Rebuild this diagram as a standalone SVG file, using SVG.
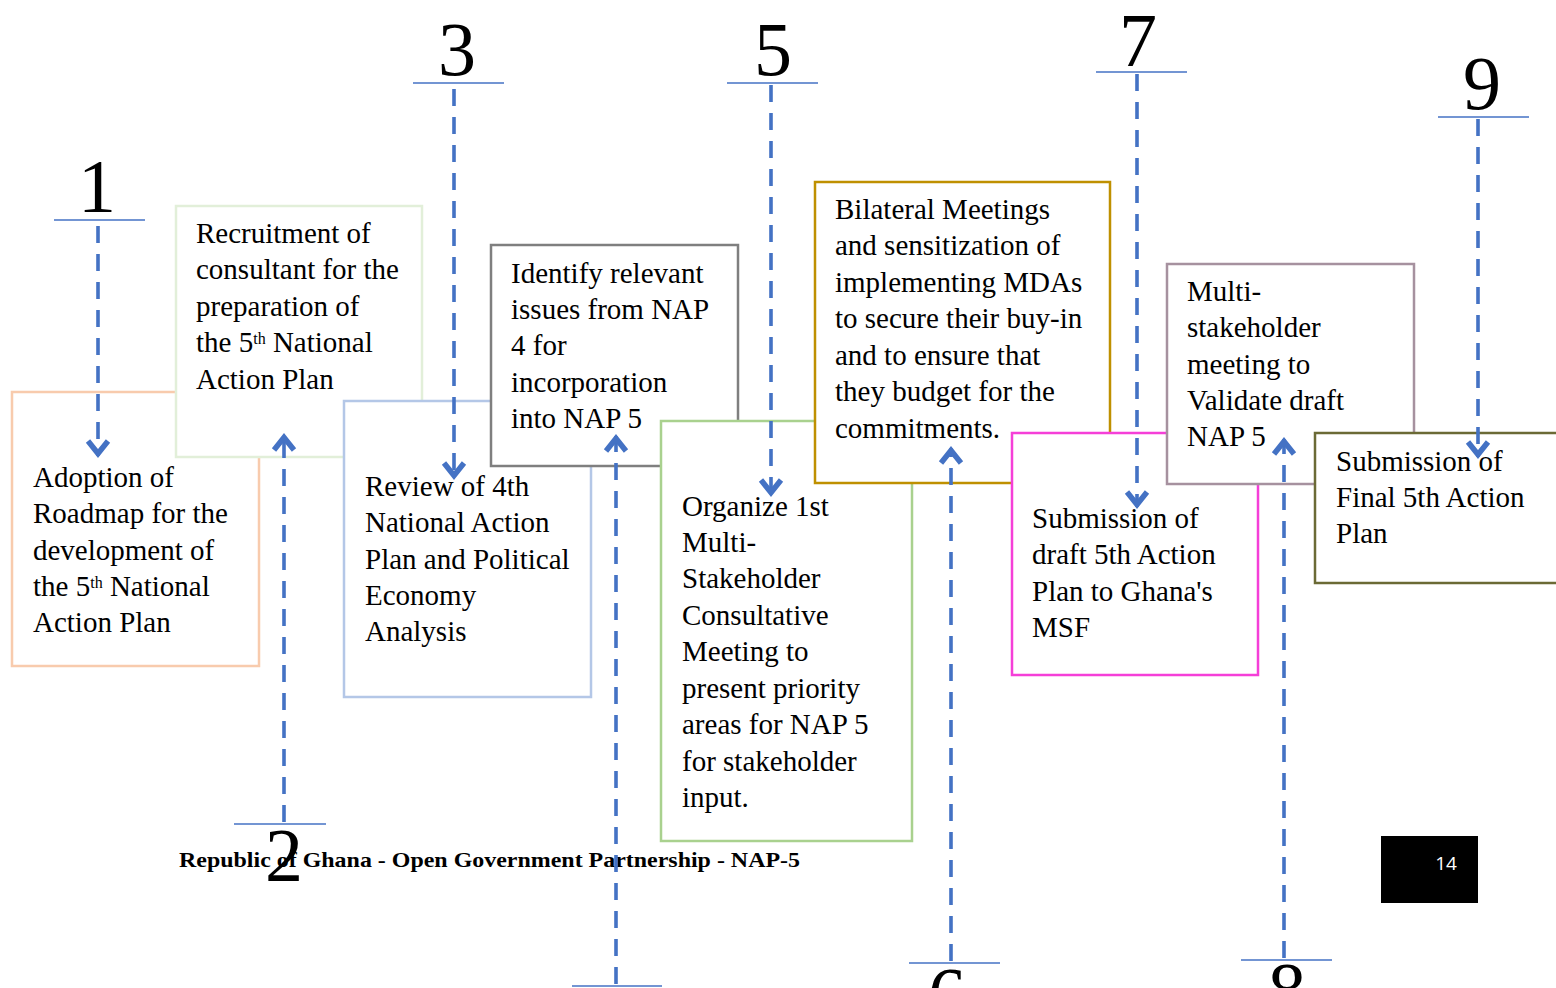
<svg xmlns="http://www.w3.org/2000/svg" width="1556" height="988" viewBox="0 0 1556 988">
<style>
.box{fill:#fff;stroke-width:2.5}
.t{font-family:"Liberation Serif","Times New Roman",serif;font-size:29px;fill:#000}
.sup{font-size:16px}
.num{font-family:"Liberation Serif","Times New Roman",serif;font-size:76px;fill:#000;text-anchor:middle}
.ul{stroke:#4472C4;stroke-width:1.6;fill:none}
.dl{stroke:#4472C4;stroke-width:3.6;stroke-dasharray:17 11;fill:none}
.foot{font-family:"Liberation Serif","Times New Roman",serif;font-size:22px;font-weight:bold;fill:#000}
</style>
<defs>
<marker id="ah" markerUnits="userSpaceOnUse" markerWidth="34" markerHeight="34" viewBox="-22 -17 34 34" refX="0" refY="0" orient="auto">
<path d="M-15,-10 L-2.5,0 L-15,10" fill="none" stroke="#4472C4" stroke-width="5.5" stroke-dasharray="none" stroke-linejoin="miter"/>
</marker>
</defs>
<rect width="1556" height="988" fill="#fff"/>

<g id="node1">
<rect class="box" x="12" y="392" width="247" height="274" stroke="#F8CBAD"/>
<text class="t" x="33" y="487">Adoption of</text>
<text class="t" x="33" y="523">Roadmap for the</text>
<text class="t" x="33" y="560">development of</text>
<text class="t" x="33" y="596">the 5<tspan class="sup" baseline-shift="super">th</tspan> National</text>
<text class="t" x="33" y="632">Action Plan</text>
</g>
<g id="node2">
<rect class="box" x="176" y="206" width="246" height="251" stroke="#E2EFD9"/>
<text class="t" x="196" y="243">Recruitment of</text>
<text class="t" x="196" y="279">consultant for the</text>
<text class="t" x="196" y="316">preparation of</text>
<text class="t" x="196" y="352">the 5<tspan class="sup" baseline-shift="super">th</tspan><tspan baseline-shift="0"> National</tspan></text>
<text class="t" x="196" y="389">Action Plan</text>
</g>
<g id="node3">
<rect class="box" x="344" y="401" width="247" height="296" stroke="#B4C7E7"/>
<text class="t" x="365" y="496">Review of 4th</text>
<text class="t" x="365" y="532">National Action</text>
<text class="t" x="365" y="569">Plan and Political</text>
<text class="t" x="365" y="605">Economy</text>
<text class="t" x="365" y="641">Analysis</text>
</g>
<g id="node4">
<rect class="box" x="491" y="245" width="247" height="221" stroke="#7F7F7F"/>
<text class="t" x="511" y="283">Identify relevant</text>
<text class="t" x="511" y="319">issues from NAP</text>
<text class="t" x="511" y="355">4 for</text>
<text class="t" x="511" y="392">incorporation</text>
<text class="t" x="511" y="428">into NAP 5</text>
</g>
<g id="node5">
<rect class="box" x="661" y="421" width="251" height="420" stroke="#A9D18E"/>
<text class="t" x="682" y="516">Organize 1st</text>
<text class="t" x="682" y="552">Multi-</text>
<text class="t" x="682" y="588">Stakeholder</text>
<text class="t" x="682" y="625">Consultative</text>
<text class="t" x="682" y="661">Meeting to</text>
<text class="t" x="682" y="698">present priority</text>
<text class="t" x="682" y="734">areas for NAP 5</text>
<text class="t" x="682" y="771">for stakeholder</text>
<text class="t" x="682" y="807">input.</text>
</g>
<g id="node6">
<rect class="box" x="815" y="182" width="295" height="301" stroke="#BF9000"/>
<text class="t" x="835" y="219">Bilateral Meetings</text>
<text class="t" x="835" y="255">and sensitization of</text>
<text class="t" x="835" y="292">implementing MDAs</text>
<text class="t" x="835" y="328">to secure their buy-in</text>
<text class="t" x="835" y="365">and to ensure that</text>
<text class="t" x="835" y="401">they budget for the</text>
<text class="t" x="835" y="438">commitments.</text>
</g>
<g id="node7">
<rect class="box" x="1012" y="433" width="246" height="242" stroke="#F53FD8"/>
<text class="t" x="1032" y="528">Submission of</text>
<text class="t" x="1032" y="564">draft 5th Action</text>
<text class="t" x="1032" y="601">Plan to Ghana's</text>
<text class="t" x="1032" y="637">MSF</text>
</g>
<g id="node8">
<rect class="box" x="1167" y="264" width="247" height="220" stroke="#A6919F"/>
<text class="t" x="1187" y="301">Multi-</text>
<text class="t" x="1187" y="337">stakeholder</text>
<text class="t" x="1187" y="374">meeting to</text>
<text class="t" x="1187" y="410">Validate draft</text>
<text class="t" x="1187" y="446">NAP 5</text>
</g>
<g id="node9">
<rect class="box" x="1315" y="433" width="250" height="150" stroke="#6B6A35"/>
<text class="t" x="1336" y="471">Submission of</text>
<text class="t" x="1336" y="507">Final 5th Action</text>
<text class="t" x="1336" y="543">Plan</text>
</g>

<g id="footer">
<text class="foot" x="179" y="867" textLength="621" lengthAdjust="spacingAndGlyphs">Republic of Ghana - Open Government Partnership - NAP-5</text>
<rect x="1381" y="836" width="97" height="67" fill="#000"/>
<text x="1446" y="870" font-family="'Open Sans','Liberation Sans',sans-serif" font-size="19" fill="#fff" text-anchor="middle">14</text>
</g>

<g id="connectors">
<line class="ul" x1="54" y1="220" x2="145" y2="220"/>
<line class="ul" x1="234" y1="824" x2="326" y2="824"/>
<line class="ul" x1="413" y1="83" x2="504" y2="83"/>
<line class="ul" x1="572" y1="986" x2="662" y2="986"/>
<line class="ul" x1="727" y1="83" x2="818" y2="83"/>
<line class="ul" x1="909" y1="963" x2="1000" y2="963"/>
<line class="ul" x1="1096" y1="72" x2="1187" y2="72"/>
<line class="ul" x1="1241" y1="960" x2="1332" y2="960"/>
<line class="ul" x1="1438" y1="117" x2="1529" y2="117"/>

<line class="dl" x1="98" y1="226" x2="98" y2="456" marker-end="url(#ah)"/>
<line class="dl" x1="284" y1="822" x2="284" y2="435" marker-end="url(#ah)"/>
<line class="dl" x1="454" y1="89" x2="454" y2="478" marker-end="url(#ah)"/>
<line class="dl" x1="616" y1="984" x2="616" y2="436" marker-end="url(#ah)"/>
<line class="dl" x1="771" y1="85" x2="771" y2="495" marker-end="url(#ah)"/>
<line class="dl" x1="951" y1="961" x2="951" y2="448" marker-end="url(#ah)"/>
<line class="dl" x1="1137" y1="74" x2="1137" y2="507" marker-end="url(#ah)"/>
<line class="dl" x1="1284" y1="958" x2="1284" y2="439" marker-end="url(#ah)"/>
<line class="dl" x1="1478" y1="119" x2="1478" y2="457" marker-end="url(#ah)"/>
</g>

<g id="numbers">
<text class="num" x="97" y="212">1</text>
<text class="num" x="284" y="881">2</text>
<text class="num" x="457" y="75">3</text>
<text class="num" x="773" y="75">5</text>
<text class="num" x="947" y="1020">6</text>
<text class="num" x="1138" y="66">7</text>
<text class="num" x="1287" y="1015">8</text>
<text class="num" x="1482" y="109">9</text>
</g>
</svg>
